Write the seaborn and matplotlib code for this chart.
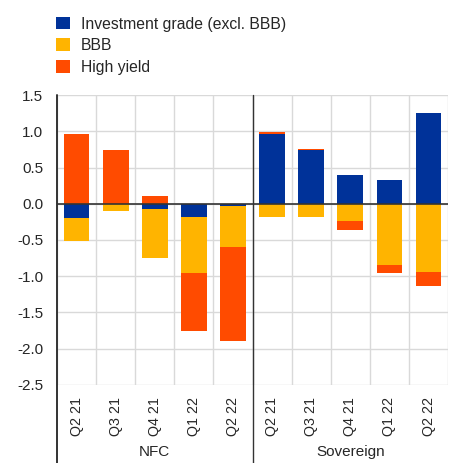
import numpy as np
import pandas as pd
import seaborn as sns
import matplotlib.pyplot as plt
from matplotlib.patches import Patch

# data
quarters = ["Q2 21", "Q3 21", "Q4 21", "Q1 22", "Q2 22"]
groups = ["NFC", "Sovereign"]
invest_grade = [-0.19, 0.00, -0.07, -0.18, -0.03,
                0.96, 0.74, 0.40, 0.33, 1.25]
bbb = [-0.33, -0.10, -0.68, -0.78, -0.57,
       -0.18, -0.18, -0.24, -0.85, -0.94]
high_yield = [0.96, 0.74, 0.11, -0.80, -1.29,
              0.03, 0.02, -0.12, -0.10, -0.20]

series_names = ["Investment grade (excl. BBB)", "BBB", "High yield"]
colors = ["#003299", "#FFB400", "#FF4B00"]

sns.set_style("white")
plt.rcParams["font.family"] = ["Liberation Sans", "DejaVu Sans"]

labels = [f"{g}|{q}" for g in groups for q in quarters]
df = pd.DataFrame({"label": labels, "ig": invest_grade, "bbb": bbb, "hy": high_yield})

fig = plt.figure(figsize=(4.49, 4.63), dpi=100)
ax = fig.add_axes([0.127, 0.1685, 0.871, 0.6263])

# stack positives and negatives separately
pos_base = np.zeros(len(df))
neg_base = np.zeros(len(df))
for col, c in zip(["ig", "bbb", "hy"], colors):
    vals = df[col].values
    bottom = np.where(vals >= 0, pos_base, neg_base)
    sns.barplot(x=df["label"], y=vals, bottom=bottom, color=c, width=0.66,
                linewidth=0, saturation=1, ax=ax, zorder=3)
    pos_base = pos_base + np.clip(vals, 0, None)
    neg_base = neg_base + np.clip(vals, None, 0)

yt = np.arange(-2.5, 1.51, 0.5)
ax.set_ylim(-2.5, 1.5)
ax.set_xlim(-0.5, len(df) - 0.5)
ax.set_yticks(yt)
ax.set_yticklabels([f"{v:.1f}" for v in yt], fontsize=11)
ax.set_xticks(range(len(df)))
ax.set_xticklabels(quarters * 2, rotation=90, fontsize=10.3, va="top")
ax.tick_params(axis="both", length=0)
ax.tick_params(axis="x", pad=8.5)
ax.tick_params(axis="y", pad=10)
ax.set_xlabel("")
ax.set_ylabel("")

for y in yt:
    ax.axhline(y, color="#d9d9d9", lw=1, zorder=1)
for x in np.arange(-0.5, len(df), 1.0):
    ax.axvline(x, color="#d9d9d9", lw=1, zorder=1)
ax.axhline(0, color="#333333", lw=1.2, zorder=4)

for s in ["top", "right", "bottom", "left"]:
    ax.spines[s].set_visible(False)

# group separators running down past the axis
for x in [-0.5, 4.5]:
    ax.plot([x, x], [-3.65, 1.5], color="#333333", lw=1.4 if x < 0 else 1.0,
            clip_on=False, zorder=5)

for i, g in enumerate(groups):
    ax.text(2 + 5 * i, -3.42, g, ha="center", va="center", fontsize=11)

handles = [Patch(facecolor=c, edgecolor="none") for c in colors]
fig.legend(handles, series_names, loc="upper left", bbox_to_anchor=(0.101, 0.988),
           frameon=False, fontsize=11.3, handlelength=0.85, handleheight=0.85,
           handletextpad=0.7, labelspacing=0.42, borderaxespad=0.3)

fig.savefig("out.png", dpi=100)
